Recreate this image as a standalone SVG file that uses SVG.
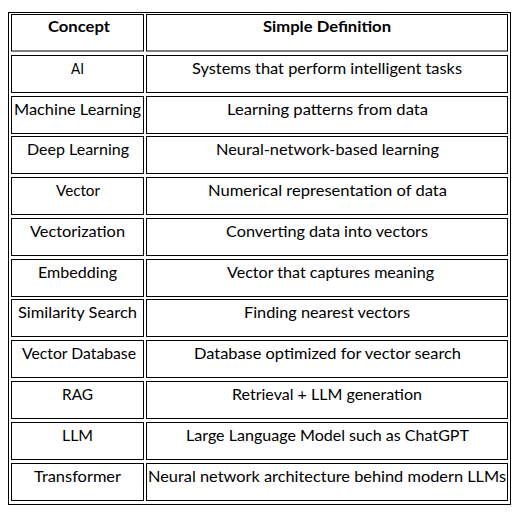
<svg xmlns="http://www.w3.org/2000/svg" width="521" height="518" viewBox="0 0 521 518">
<style>
.cell{fill:#fff;stroke:#000;stroke-width:1}
.t{font-family:Lato,"Liberation Sans",sans-serif;font-size:15px;fill:#000;text-anchor:middle}
.h{font-weight:bold}
</style>
<rect width="521" height="518" fill="#fff"/>
<rect id="outer" x="8.5" y="12.5" width="502" height="492" fill="#fff" stroke="#000" stroke-width="1"/>
<g id="row0">
<rect class="cell" x="11.5" y="14.5" width="132" height="36.5"/><rect class="cell" x="146.5" y="14.5" width="361" height="36.5"/>
<text class="t h" x="79" y="32" textLength="62" lengthAdjust="spacingAndGlyphs">Concept</text>
<text class="t h" x="327" y="32" textLength="128" lengthAdjust="spacingAndGlyphs">Simple Definition</text>
</g>
<g id="row1">
<rect class="cell" x="11.5" y="55.5" width="132" height="37"/><rect class="cell" x="146.5" y="55.5" width="361" height="37"/>
<text class="t" x="77.5" y="74" textLength="13" lengthAdjust="spacingAndGlyphs">AI</text>
<text class="t" x="327" y="74" textLength="270" lengthAdjust="spacingAndGlyphs">Systems that perform intelligent tasks</text>
</g>
<g id="row2">
<rect class="cell" x="11.5" y="96.5" width="132" height="37"/><rect class="cell" x="146.5" y="96.5" width="361" height="37"/>
<text class="t" x="77.5" y="115" textLength="127" lengthAdjust="spacingAndGlyphs">Machine Learning</text>
<text class="t" x="327.5" y="115" textLength="201" lengthAdjust="spacingAndGlyphs">Learning patterns from data</text>
</g>
<g id="row3">
<rect class="cell" x="11.5" y="136.5" width="132" height="37"/><rect class="cell" x="146.5" y="136.5" width="361" height="37"/>
<text class="t" x="78" y="155" textLength="102" lengthAdjust="spacingAndGlyphs">Deep Learning</text>
<text class="t" x="327.5" y="155" textLength="223" lengthAdjust="spacingAndGlyphs">Neural-network-based learning</text>
</g>
<g id="row4">
<rect class="cell" x="11.5" y="177.5" width="132" height="37"/><rect class="cell" x="146.5" y="177.5" width="361" height="37"/>
<text class="t" x="78" y="196" textLength="44" lengthAdjust="spacingAndGlyphs">Vector</text>
<text class="t" x="327.5" y="196" textLength="239" lengthAdjust="spacingAndGlyphs">Numerical representation of data</text>
</g>
<g id="row5">
<rect class="cell" x="11.5" y="218.5" width="132" height="37"/><rect class="cell" x="146.5" y="218.5" width="361" height="37"/>
<text class="t" x="77.5" y="237" textLength="95" lengthAdjust="spacingAndGlyphs">Vectorization</text>
<text class="t" x="327" y="237" textLength="202" lengthAdjust="spacingAndGlyphs">Converting data into vectors</text>
</g>
<g id="row6">
<rect class="cell" x="11.5" y="259.5" width="132" height="37"/><rect class="cell" x="146.5" y="259.5" width="361" height="37"/>
<text class="t" x="77.5" y="278" textLength="79" lengthAdjust="spacingAndGlyphs">Embedding</text>
<text class="t" x="330.5" y="278" textLength="207" lengthAdjust="spacingAndGlyphs">Vector that captures meaning</text>
</g>
<g id="row7">
<rect class="cell" x="11.5" y="299.5" width="132" height="37"/><rect class="cell" x="146.5" y="299.5" width="361" height="37"/>
<text class="t" x="77.5" y="318" textLength="119" lengthAdjust="spacingAndGlyphs">Similarity Search</text>
<text class="t" x="327" y="318" textLength="166" lengthAdjust="spacingAndGlyphs">Finding nearest vectors</text>
</g>
<g id="row8">
<rect class="cell" x="11.5" y="340.5" width="132" height="37"/><rect class="cell" x="146.5" y="340.5" width="361" height="37"/>
<text class="t" x="79" y="359" textLength="114" lengthAdjust="spacingAndGlyphs">Vector Database</text>
<text class="t" x="327.5" y="359" textLength="267" lengthAdjust="spacingAndGlyphs">Database optimized for vector search</text>
</g>
<g id="row9">
<rect class="cell" x="11.5" y="381.5" width="132" height="37"/><rect class="cell" x="146.5" y="381.5" width="361" height="37"/>
<text class="t" x="77.5" y="400" textLength="31" lengthAdjust="spacingAndGlyphs">RAG</text>
<text class="t" x="327" y="400" textLength="190" lengthAdjust="spacingAndGlyphs">Retrieval + LLM generation</text>
</g>
<g id="row10">
<rect class="cell" x="11.5" y="422.5" width="132" height="37"/><rect class="cell" x="146.5" y="422.5" width="361" height="37"/>
<text class="t" x="77.5" y="441" textLength="31" lengthAdjust="spacingAndGlyphs">LLM</text>
<text class="t" x="327.5" y="441" textLength="283" lengthAdjust="spacingAndGlyphs">Large Language Model such as ChatGPT</text>
</g>
<g id="row11">
<rect class="cell" x="11.5" y="463.5" width="132" height="37"/><rect class="cell" x="146.5" y="463.5" width="361" height="37"/>
<text class="t" x="77.5" y="482" textLength="87" lengthAdjust="spacingAndGlyphs">Transformer</text>
<text class="t" x="327" y="482" textLength="358" lengthAdjust="spacingAndGlyphs">Neural network architecture behind modern LLMs</text>
</g>
</svg>
